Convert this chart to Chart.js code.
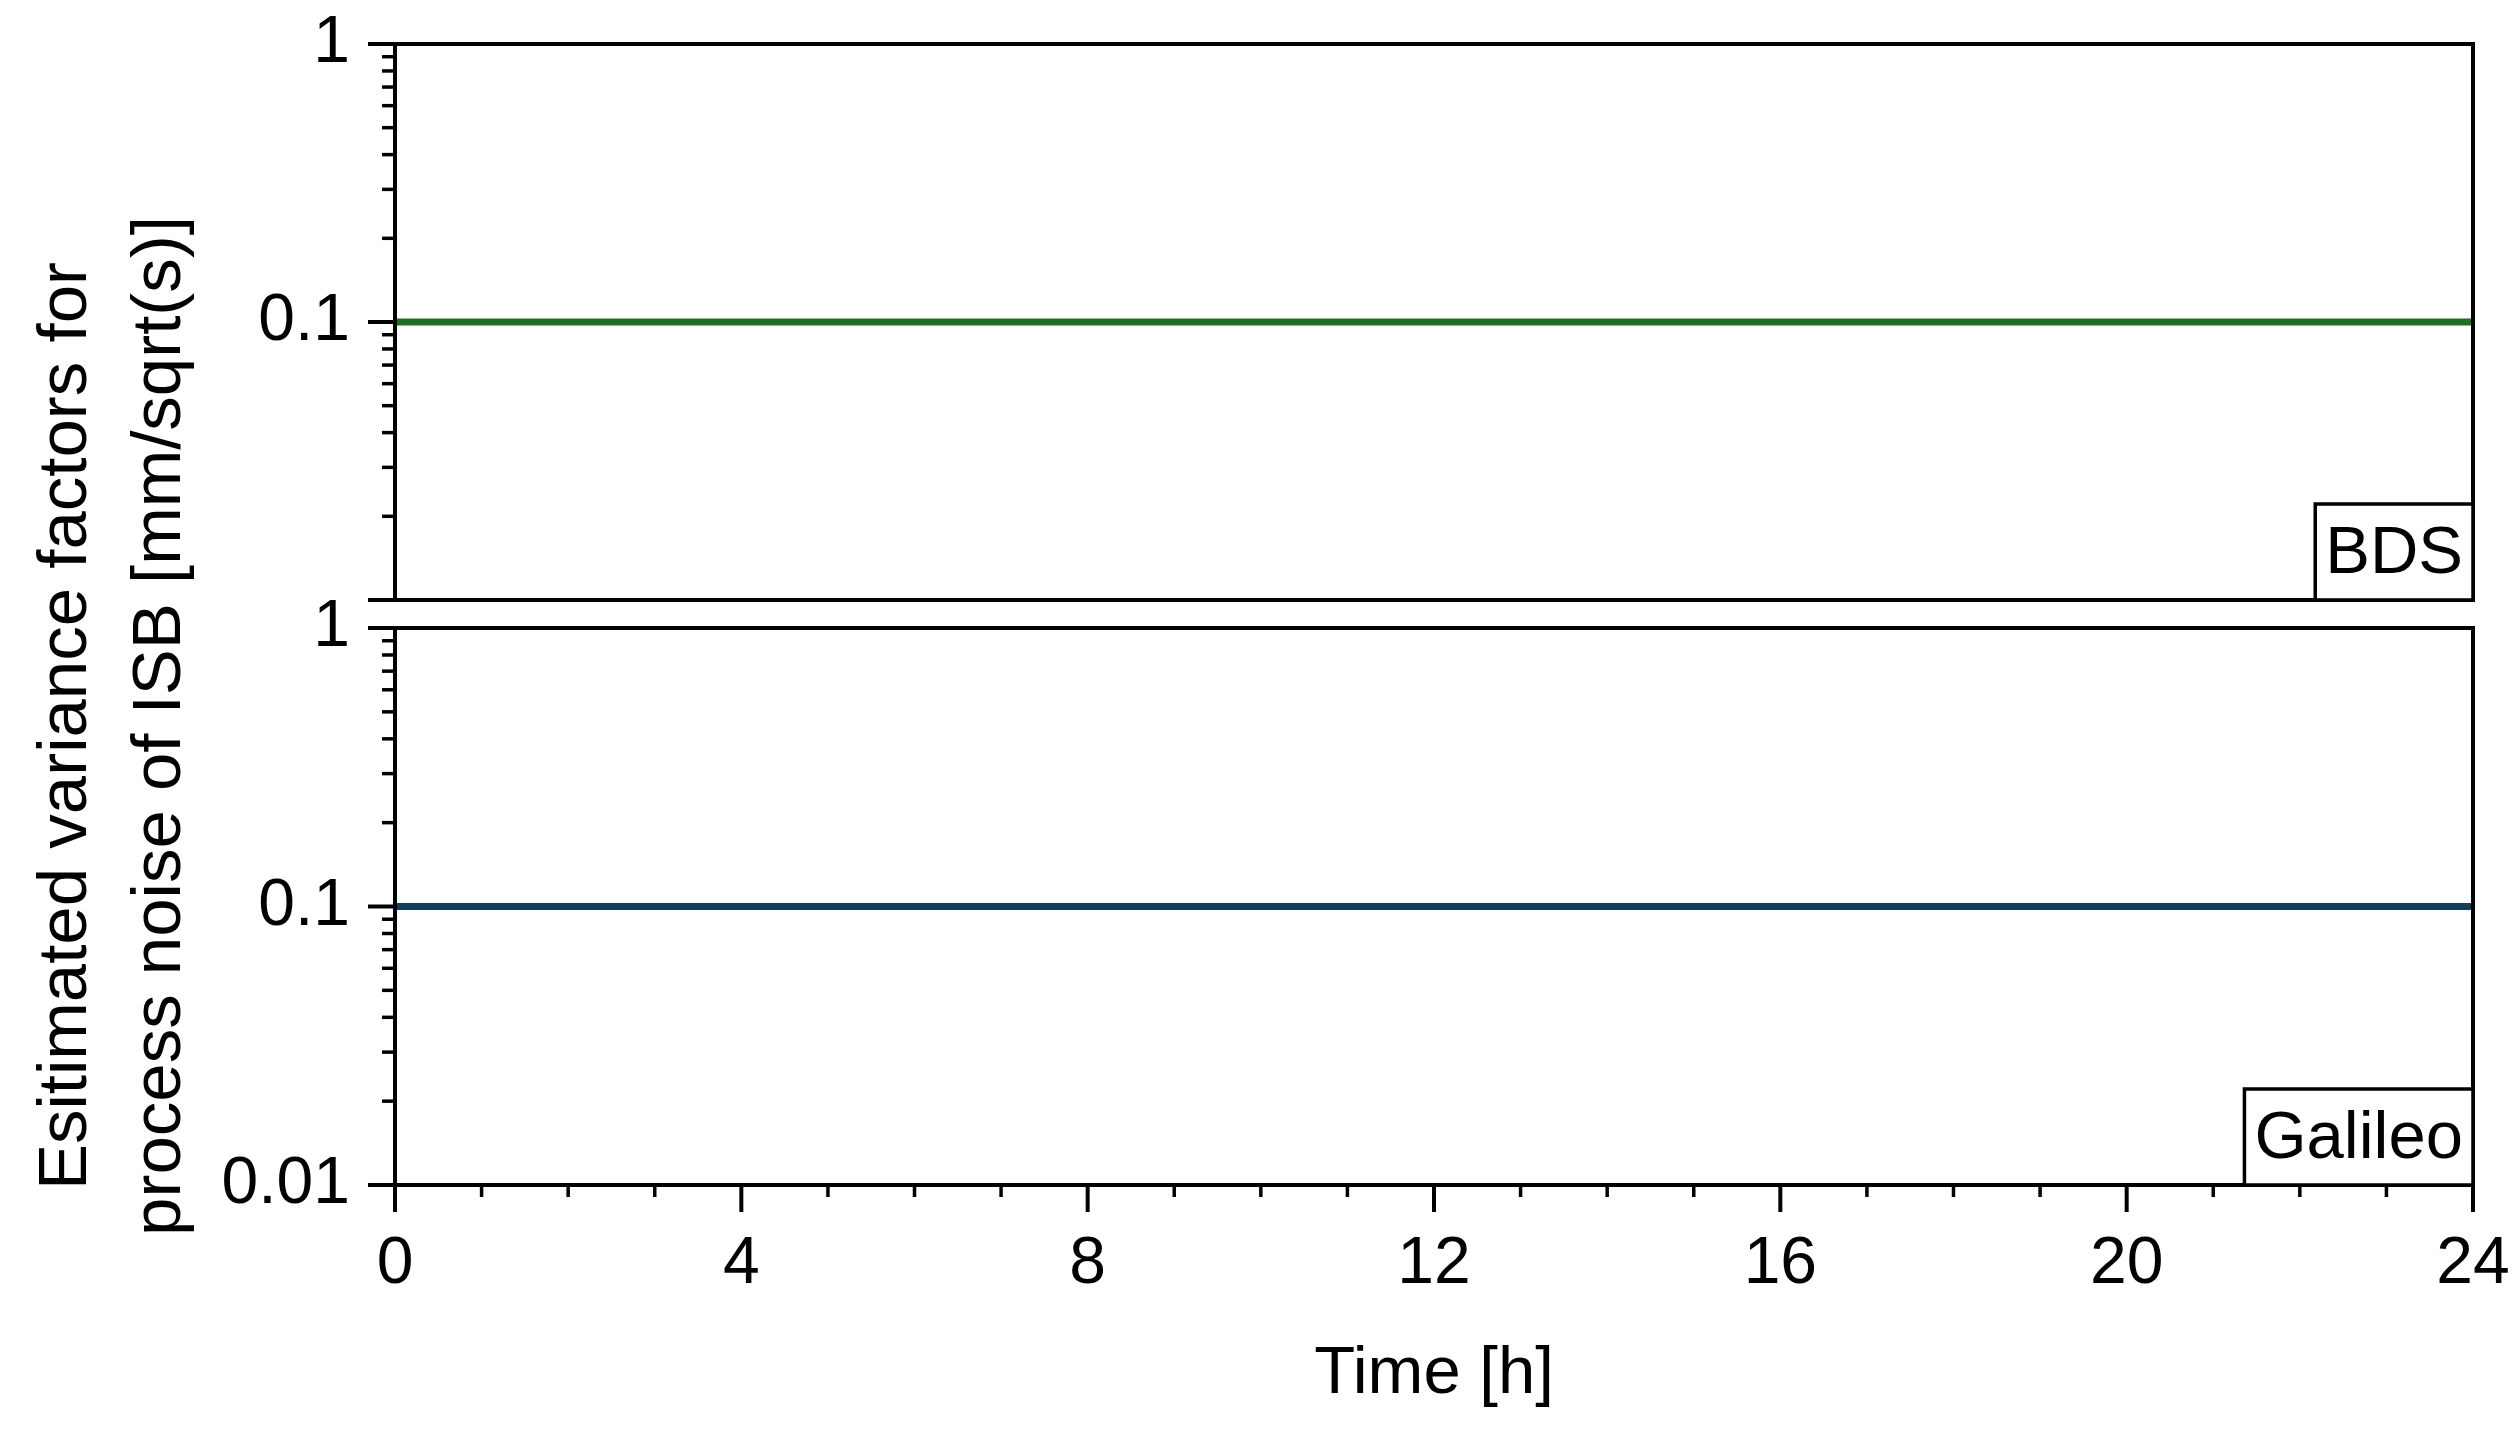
<!DOCTYPE html>
<html>
<head>
<meta charset="utf-8">
<script src="https://cdn.jsdelivr.net/npm/chart.js@4.4.1/dist/chart.umd.min.js"></script>
<style>
  body { margin: 0; background: #fff; }
  #wrap { position: relative; width: 2520px; height: 1430px; }
  canvas { position: absolute; left: 0; top: 0; }
</style>
</head>
<body>
<div id="wrap">
  <canvas id="topChart" width="2520" height="1430"></canvas>
  <canvas id="bottomChart" width="2520" height="1430"></canvas>
</div>
<script>
// data
const hours = [0, 1, 2, 3, 4, 5, 6, 7, 8, 9, 10, 11, 12, 13, 14, 15, 16, 17, 18, 19, 20, 21, 22, 23, 24];
const bdsFactor = [0.1, 0.1, 0.1, 0.1, 0.1, 0.1, 0.1, 0.1, 0.1, 0.1, 0.1, 0.1, 0.1, 0.1, 0.1, 0.1, 0.1, 0.1, 0.1, 0.1, 0.1, 0.1, 0.1, 0.1, 0.1];
const galileoFactor = [0.1, 0.1, 0.1, 0.1, 0.1, 0.1, 0.1, 0.1, 0.1, 0.1, 0.1, 0.1, 0.1, 0.1, 0.1, 0.1, 0.1, 0.1, 0.1, 0.1, 0.1, 0.1, 0.1, 0.1, 0.1];
const panelNames = ['BDS', 'Galileo'];

const xLabels = ['0', '4', '8', '12', '16', '20', '24'];
const yTicks = [0.01, 0.02, 0.03, 0.04, 0.05, 0.06, 0.07, 0.08, 0.09,
                0.1, 0.2, 0.3, 0.4, 0.5, 0.6, 0.7, 0.8, 0.9, 1];
const yMajor = [0.01, 0.1, 1];
const topYLabels = ['1', '0.1'];
const bottomYLabels = ['1', '0.1', '0.01'];
const xTitle = 'Time [h]';
const yTitleLines = ['Esitimated variance factors for', 'process noise of ISB [mm/sqrt(s)]'];

const FONT = 'Liberation Sans, Arial, sans-serif';
Chart.defaults.font.family = FONT;
Chart.defaults.color = '#000';

const toPts = (xs, ys) => xs.map((x, i) => ({x: x, y: ys[i]}));

// frame, tick marks and panel name box
const framePlugin = {
  id: 'frame',
  afterDraw(chart, args, opts) {
    const {ctx, chartArea: a} = chart;
    ctx.save();
    ctx.strokeStyle = '#000';
    ctx.lineWidth = 4;
    ctx.strokeRect(a.left, a.top, a.right - a.left, a.bottom - a.top);

    // y ticks
    const ys = chart.scales.y;
    ys.ticks.forEach(t => {
      const py = ys.getPixelForValue(t.value);
      const major = yMajor.includes(t.value);
      ctx.lineWidth = major ? 4 : 3.5;
      ctx.beginPath();
      ctx.moveTo(a.left - (major ? 27 : 13), py);
      ctx.lineTo(a.left, py);
      ctx.stroke();
    });

    // x ticks
    if (opts.xTicks) {
      const xs = chart.scales.x;
      xs.ticks.forEach(t => {
        const px = xs.getPixelForValue(t.value);
        const major = t.value % 4 === 0;
        ctx.lineWidth = major ? 4 : 3.5;
        ctx.beginPath();
        ctx.moveTo(px, a.bottom);
        ctx.lineTo(px, a.bottom + (major ? 27 : 12));
        ctx.stroke();
      });
    }

    // panel name box in bottom right
    ctx.font = '67px ' + FONT;
    const w = ctx.measureText(opts.name).width + 20;
    const h = 96;
    ctx.lineWidth = 3.5;
    ctx.fillStyle = '#fff';
    ctx.fillRect(a.right - w, a.bottom - h, w, h);
    ctx.strokeRect(a.right - w, a.bottom - h, w, h);
    ctx.fillStyle = '#000';
    ctx.textAlign = 'center';
    ctx.textBaseline = 'middle';
    ctx.fillText(opts.name, a.right - w / 2, a.bottom - h / 2 + 3);
    ctx.restore();
  }
};

const yTitlePlugin = {
  id: 'yTitle',
  afterDraw(chart) {
    const ctx = chart.ctx;
    ctx.save();
    ctx.font = '69px ' + FONT;
    ctx.fillStyle = '#000';
    ctx.textAlign = 'center';
    ctx.textBaseline = 'middle';
    [67, 161].forEach((x, i) => {
      ctx.save();
      ctx.translate(x, 726);
      ctx.rotate(-Math.PI / 2);
      ctx.fillText(yTitleLines[i], 0, 0);
      ctx.restore();
    });
    ctx.restore();
  }
};

function yScale(labels) {
  return {
    type: 'logarithmic',
    min: 0.01,
    max: 1,
    afterFit: s => { s.width = 395; s.paddingTop = 0; s.paddingBottom = 0; },
    afterBuildTicks: s => { s.ticks = yTicks.map(v => ({value: v})); },
    grid: { display: false, drawTicks: false },
    border: { display: false },
    ticks: {
      autoSkip: false,
      padding: 45,
      font: { size: 66 },
      color: '#000',
      callback: v => labels.includes(String(v)) ? String(v) : ''
    }
  };
}

new Chart(document.getElementById('topChart'), {
  type: 'line',
  data: {
    datasets: [{
      label: panelNames[0],
      data: toPts(hours, bdsFactor),
      borderColor: '#226e22',
      borderWidth: 7,
      pointRadius: 0
    }]
  },
  options: {
    responsive: false,
    animation: false,
    devicePixelRatio: 1,
    layout: { padding: { left: 0, top: 44, right: 47, bottom: 830 } },
    plugins: { legend: { display: false }, tooltip: { enabled: false }, frame: { name: panelNames[0], xTicks: false } },
    scales: {
      x: { type: 'linear', min: 0, max: 24, display: false },
      y: yScale(topYLabels)
    }
  },
  plugins: [framePlugin]
});

new Chart(document.getElementById('bottomChart'), {
  type: 'line',
  data: {
    datasets: [{
      label: panelNames[1],
      data: toPts(hours, galileoFactor),
      borderColor: '#133d5d',
      borderWidth: 7,
      pointRadius: 0
    }]
  },
  options: {
    responsive: false,
    animation: false,
    devicePixelRatio: 1,
    layout: { padding: { left: 0, top: 628, right: 47, bottom: 0 } },
    plugins: { legend: { display: false }, tooltip: { enabled: false }, frame: { name: panelNames[1], xTicks: true } },
    scales: {
      x: {
        type: 'linear',
        min: 0,
        max: 24,
        afterFit: s => { s.height = 245; s.paddingLeft = 0; s.paddingRight = 0; },
        afterBuildTicks: s => { s.ticks = hours.map(v => ({value: v})); },
        grid: { display: false, drawTicks: false },
        border: { display: false },
        ticks: {
          autoSkip: false,
          maxRotation: 0,
          padding: 40,
          font: { size: 66 },
          color: '#000',
          callback: v => xLabels.includes(String(v)) ? String(v) : ''
        },
        title: {
          display: true,
          text: xTitle,
          font: { size: 67 },
          color: '#000',
          padding: { top: 0, bottom: 15 }
        }
      },
      y: yScale(bottomYLabels)
    }
  },
  plugins: [framePlugin, yTitlePlugin]
});
</script>
</body>
</html>
